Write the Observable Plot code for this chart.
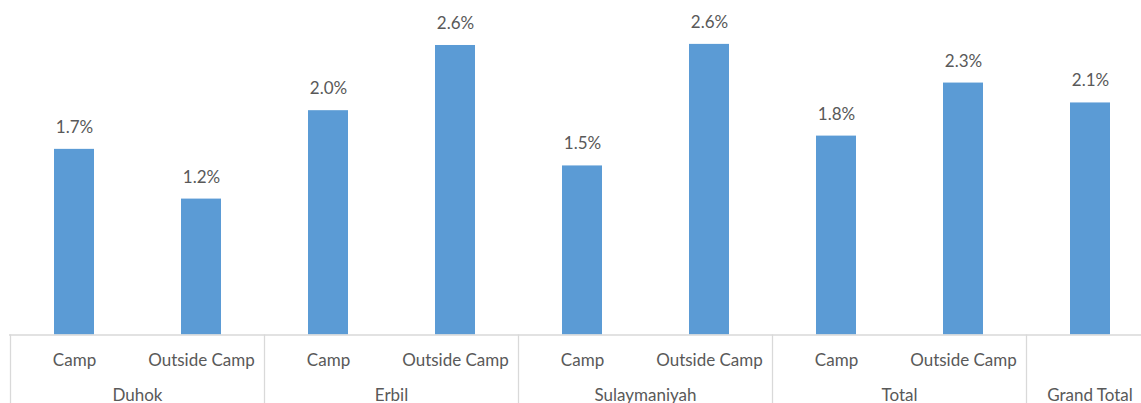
<!DOCTYPE html>
<html>
<head>
<meta charset="utf-8">
<script src="https://cdn.jsdelivr.net/npm/d3@7"></script>
<script src="https://cdn.jsdelivr.net/npm/@observablehq/plot@0.6"></script>
<style>
  html, body { margin: 0; padding: 0; background: #ffffff; }
  #chart svg { display: block; }
</style>
</head>
<body>
<div id="chart"></div>
<script>
// ---- Data ----
const regions = ["Duhok", "Duhok", "Erbil", "Erbil", "Sulaymaniyah", "Sulaymaniyah", "Total", "Total", "Grand Total"];
const subLabels = ["Camp", "Outside Camp", "Camp", "Outside Camp", "Camp", "Outside Camp", "Camp", "Outside Camp", ""];
const values = [1.68, 1.23, 2.03, 2.62, 1.53, 2.63, 1.80, 2.28, 2.10];
const groups = ["Duhok", "Erbil", "Sulaymaniyah", "Total", "Grand Total"];

const data = values.map((v, i) => ({
  key: regions[i] + "|" + subLabels[i],
  region: regions[i],
  sub: subLabels[i],
  value: v
}));
const keys = data.map(d => d.key);

const textColor = "#595959";
const barColor = "#5B9BD5";
const lineColor = "#d9d9d9";
const font = "Lato, 'Open Sans', sans-serif";

const W = 1141, H = 403;
const baseY = 334.5;

const plot = Plot.plot({
  width: W,
  height: H,
  marginTop: 3,
  marginBottom: H - baseY,
  marginLeft: 9,
  marginRight: 0,
  style: { fontFamily: font, fontSize: "17px", color: textColor, background: "#ffffff", overflow: "visible" },
  x: { domain: keys, range: [9, 1154], paddingInner: 0.686, paddingOuter: 0.343, axis: null },
  y: { domain: [0, 3], axis: null },
  marks: [
    Plot.barY(data, { x: "key", y: "value", fill: barColor }),
    Plot.ruleY([0], { stroke: lineColor, strokeWidth: 1.3 }),
    Plot.text(data, {
      x: "key", y: "value",
      text: d => d.value.toFixed(1) + "%",
      dy: -22, fill: textColor, fontSize: 17
    }),
    Plot.text(data, {
      x: "key", text: "sub", frameAnchor: "bottom",
      dy: 30.5, fill: textColor, fontSize: 17
    })
  ]
});

// Multi-level category axis: group labels and separators via the x scale
const xs = plot.scale("x");
const step = xs.apply(keys[1]) - xs.apply(keys[0]);
const bw = xs.bandwidth || 0;
const svg = d3.select(plot.tagName.toLowerCase() === "svg" ? plot : plot.querySelector("svg"));
const g = svg.append("g");

groups.forEach(grp => {
  const members = data.filter(d => d.region === grp);
  const xFirst = xs.apply(members[0].key) + bw / 2;
  const xLast = xs.apply(members[members.length - 1].key) + bw / 2;
  const left = xFirst - step / 2;
  g.append("line")
    .attr("x1", left).attr("x2", left)
    .attr("y1", baseY).attr("y2", H)
    .attr("stroke", lineColor).attr("stroke-width", 1.3);
  g.append("text")
    .attr("x", (xFirst + xLast) / 2)
    .attr("y", 401)
    .attr("text-anchor", "middle")
    .attr("fill", textColor)
    .attr("font-family", font)
    .attr("font-size", 17)
    .text(grp);
});

document.getElementById("chart").appendChild(plot);
</script>
</body>
</html>
